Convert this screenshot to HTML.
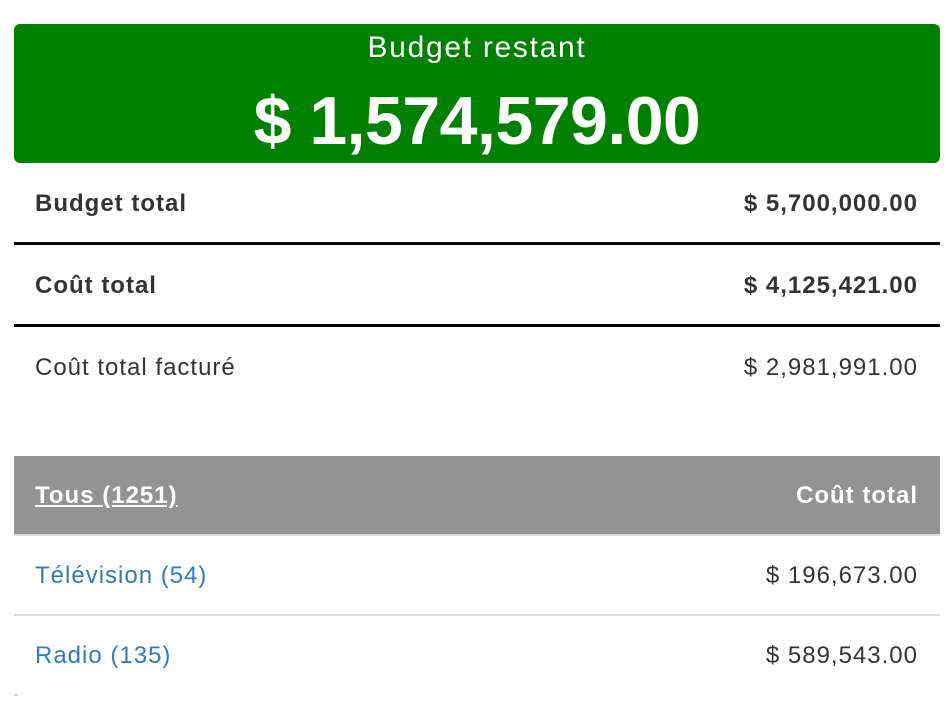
<!DOCTYPE html>
<html><head><meta charset="utf-8"><style>
body{margin:0;width:952px;height:708px;background:#fff;font-family:"Liberation Sans",Arial,sans-serif;position:relative;overflow:hidden;color:#333}
.a{position:absolute}
.green{left:14px;top:24px;width:926px;height:139px;background:#008000;border-radius:6px;color:#fff;text-align:center}
.t{font-size:24px;letter-spacing:1px}
</style></head><body>
<div class="a green">
<div class="a" style="left:0;right:0;top:7px;font-size:30px;letter-spacing:1.7px">Budget restant</div>
<div class="a" style="left:0;right:0;top:58px;font-size:68px;font-weight:bold;letter-spacing:-0.5px">$ 1,574,579.00</div>
</div>
<div class="a t" style="left:35px;top:190px;font-weight:bold">Budget total</div>
<div class="a t" style="right:34px;top:190px;font-weight:bold">$ 5,700,000.00</div>
<div class="a" style="left:14px;width:926px;top:242px;height:3px;background:#000"></div>
<div class="a t" style="left:35px;top:272px;font-weight:bold">Coût total</div>
<div class="a t" style="right:34px;top:272px;font-weight:bold">$ 4,125,421.00</div>
<div class="a" style="left:14px;width:926px;top:324px;height:3px;background:#000"></div>
<div class="a t" style="left:35px;top:354px">Coût total facturé</div>
<div class="a t" style="right:34px;top:354px">$ 2,981,991.00</div>
<div class="a" style="left:14px;width:926px;top:456px;height:78px;background:#939393"></div>
<div class="a t" style="left:35px;top:482px;font-weight:bold;color:#fff;text-decoration:underline">Tous (1251)</div>
<div class="a t" style="right:34px;top:482px;font-weight:bold;color:#fff">Coût total</div>
<div class="a" style="left:14px;width:926px;top:534px;height:2px;background:#ddd"></div>
<div class="a t" style="left:35px;top:562px;color:#337ab7">Télévision (54)</div>
<div class="a t" style="right:34px;top:562px">$ 196,673.00</div>
<div class="a" style="left:14px;width:926px;top:614px;height:2px;background:#ddd"></div>
<div class="a t" style="left:35px;top:642px;color:#337ab7">Radio (135)</div>
<div class="a t" style="right:34px;top:642px">$ 589,543.00</div>
<div class="a" style="left:14px;width:4px;top:694px;height:2px;background:#ddd"></div>
</body></html>
